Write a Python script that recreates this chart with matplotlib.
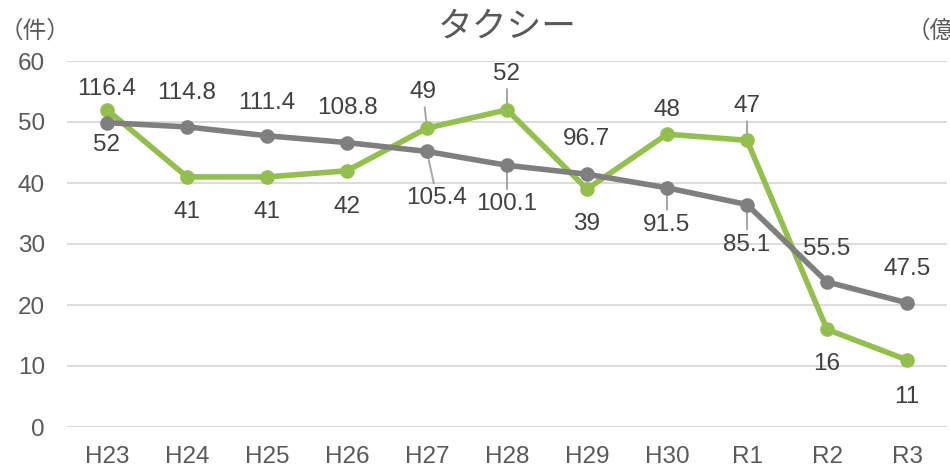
import matplotlib
matplotlib.use("Agg")
import matplotlib.pyplot as plt

plt.rcParams['font.family'] = ['Liberation Sans', 'Noto Sans CJK JP', 'DejaVu Sans']

categories = ["H23", "H24", "H25", "H26", "H27", "H28", "H29", "H30", "R1", "R2", "R3"]
cases = [52, 41, 41, 42, 49, 52, 39, 48, 47, 16, 11]            # 件 (left axis)
amount = [116.4, 114.8, 111.4, 108.8, 105.4, 100.1, 96.7, 91.5, 85.1, 55.5, 47.5]  # 億円 (right axis)
left_ticks = [0, 10, 20, 30, 40, 50, 60]
title = "タクシー"

# label layout (pixel offsets) and leader flags
green_off = [(0, -35), (0, -35), (0, -35), (0, -36), (-4, 36), (0, 36), (0, -35), (0, 24), (0, 34), (0, -35), (0, -37)]
green_lead = [False, False, False, False, True, True, False, False, True, False, False]
gray_off = [(0, 34), (0, 34), (0, 33), (0, 35), (10, -47), (0, -39), (0, 35), (0, -37), (0, -40), (0, 33), (0, 34)]
gray_lead = [False, False, False, False, True, True, False, True, True, False, False]

GREEN = "#92BF4E"
GRAY = "#7F7F7F"
TXT = "#595959"
LBL = "#404040"
GRID = "#D9D9D9"
FS = 17.5

fig = plt.figure(figsize=(9.5, 4.7), dpi=100)
ax = fig.add_axes([67/950, 1-427/470, 880/950, 366/470])
ax2 = ax.twinx()

x = list(range(len(categories)))
ax.plot(x, cases, color=GREEN, lw=4, marker='o', ms=9.5, zorder=3, solid_joinstyle='round')
ax2.plot(x, amount, color=GRAY, lw=4, marker='o', ms=9.5, zorder=3, solid_joinstyle='round')

ax.set_xlim(-0.5, len(categories) - 0.5)
ax.set_ylim(0, 60)
ax2.set_ylim(0, 140)
ax.set_yticks(left_ticks)
ax.set_xticks(x)
ax.set_xticklabels(categories)
ax.tick_params(axis='both', length=0, labelsize=FS, colors=TXT)
ax.tick_params(axis='y', pad=16)
ax.tick_params(axis='x', pad=14)
ax2.set_yticks([])
for a in (ax, ax2):
    for s in a.spines.values():
        s.set_visible(False)
ax.yaxis.grid(True, color=GRID, lw=1.3)
ax.set_axisbelow(True)
ax.axhline(0, color=GRID, lw=2.2, zorder=1)

def label(a, xi, yi, val, off, lead):
    kw = {}
    if lead:
        kw['arrowprops'] = dict(arrowstyle='-', color='#A6A6A6', lw=1.4, shrinkA=1, shrinkB=0)
    a.annotate(str(val), xy=(xi, yi), xytext=off, textcoords='offset pixels',
               ha='center', va='center', fontsize=FS, color=LBL, zorder=1, **kw)

for i in x:
    label(ax, i, cases[i], cases[i], green_off[i], green_lead[i])
    label(ax2, i, amount[i], amount[i], gray_off[i], gray_lead[i])

fig.text(507/950, 1-27/470, title, ha='center', va='center', fontsize=25, color=TXT,
         family=['Noto Sans CJK JP', 'DejaVu Sans'])
fig.text(0/950, 1-31/470, "（件）", ha='left', va='center', fontsize=17, color=TXT,
         family=['Noto Sans CJK JP', 'DejaVu Sans'])
fig.text(907/950, 1-31/470, "（億円）", ha='left', va='center', fontsize=17, color=TXT,
         family=['Noto Sans CJK JP', 'DejaVu Sans'])

fig.savefig("out.png", dpi=100)
